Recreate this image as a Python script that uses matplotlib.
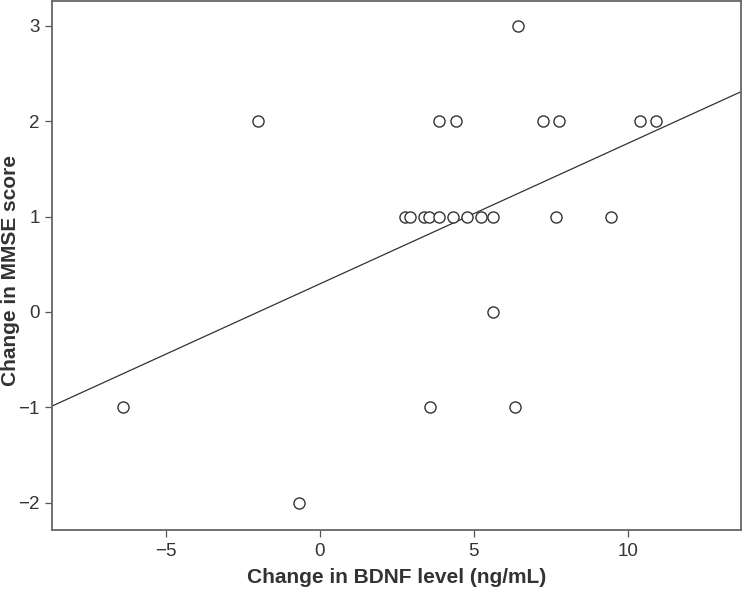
import matplotlib
matplotlib.use("Agg")
import matplotlib.pyplot as plt
import numpy as np

# Change in BDNF level (ng/mL) vs change in MMSE score, one point per subject
bdnf_change = [
    -6.40, -2.02, -0.68,
    2.76, 2.92, 3.38, 3.54, 3.86, 4.32, 4.77, 5.23, 5.61, 7.68, 9.47,
    3.86, 4.43, 7.25, 7.76, 10.39, 10.91,
    6.45, 5.61, 3.59, 6.33,
]
mmse_change = [
    -1, 2, -2,
    1, 1, 1, 1, 1, 1, 1, 1, 1, 1, 1,
    2, 2, 2, 2, 2, 2,
    3, 0, -1, -1,
]

# regression line
fit_slope = 0.1474
fit_intercept = 0.294

xlim = (-8.70, 13.67)
ylim = (-2.29, 3.26)
xticks = [-5, 0, 5, 10]
yticks = [-2, -1, 0, 1, 2, 3]

plt.rcParams["font.family"] = ["Liberation Sans Narrow", "Liberation Sans", "DejaVu Sans"]

fig = plt.figure(figsize=(7.43, 5.93), dpi=100)
ax = fig.add_axes([0.070, 0.106, 0.927, 0.892])

dark = "#333333"

line_x = np.array(xlim)
ax.plot(line_x, fit_intercept + fit_slope * line_x, color=dark, lw=0.9, zorder=2)

ax.plot(bdnf_change, mmse_change, "o", ms=8, mfc="white", mec=dark, mew=1.0,
        ls="none", zorder=3)

ax.set_xlim(*xlim)
ax.set_ylim(*ylim)
ax.set_xticks(xticks)
ax.set_yticks(yticks)
ax.set_xticklabels(["\u22125", "0", "5", "10"])
ax.set_yticklabels(["\u22122", "\u22121", "0", "1", "2", "3"])
ax.tick_params(direction="out", length=5, width=0.9, color="#555555",
               labelcolor=dark, labelsize=13.5, pad=4)

for side in ax.spines.values():
    side.set_color("#666666")
    side.set_linewidth(1.3)

label_font = dict(fontsize=15, fontweight="bold", color=dark,
                  family=["Liberation Sans", "DejaVu Sans"])
ax.set_xlabel("Change in BDNF level (ng/mL)", **label_font)
ax.set_ylabel("Change in MMSE score", **label_font)
ax.xaxis.set_label_coords(0.5, -0.072)
ax.yaxis.set_label_coords(-0.046, 0.49)

fig.savefig("out.png", dpi=100)
